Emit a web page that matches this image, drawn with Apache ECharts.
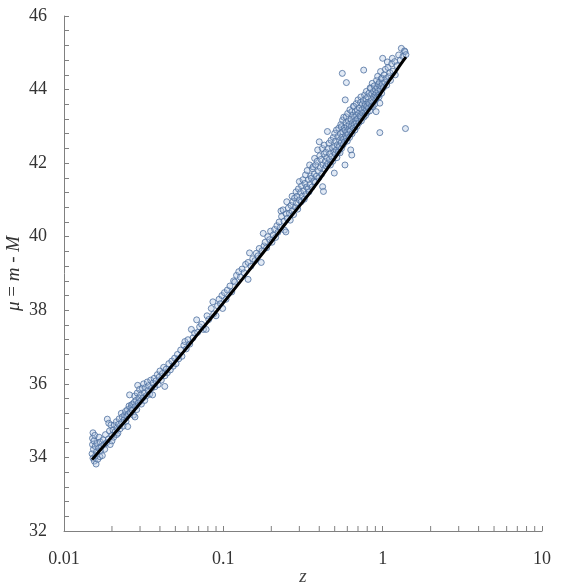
<!DOCTYPE html>
<html>
<head>
<meta charset="utf-8">
<script src="https://cdn.jsdelivr.net/npm/echarts@6/dist/echarts.min.js"></script>
<style>html,body{margin:0;padding:0;background:#fff}#c{width:577px;height:585px}</style>
</head>
<body>
<div id="c"></div>
<script>
// Axis ranges and tick labels
const xMin = 0.01, xMax = 10;
const yMin = 32, yMax = 46, yStep = 2;
const xMinorTickVals = [0.02,0.03,0.04,0.05,0.06,0.07,0.08,0.09,0.2,0.3,0.4,0.5,0.6,0.7,0.8,0.9,2,3,4,5,6,7,8,9];

// Model curve (z, mu)
const modelZ  = [0.015,0.02,0.025,0.03,0.04,0.05,0.06,0.07,0.08,0.1,0.12,0.15,0.2,0.25,0.3,0.35,0.4,0.5,0.6,0.7,0.8,0.9,1.0,1.1,1.2,1.3,1.4];
const modelMu = [33.94,34.57,35.06,35.47,36.11,36.60,37.02,37.38,37.68,38.20,38.63,39.16,39.85,40.40,40.83,41.20,41.54,42.13,42.62,43.03,43.38,43.68,43.97,44.24,44.47,44.69,44.88];

// Supernova points [z, mu]
const snPoints = [
[0.0150,34.10],[0.0151,34.35],[0.0151,34.52],[0.0152,34.67],[0.0152,33.98],[0.0153,34.22],[0.0154,34.45],[0.0155,33.90],[0.0156,34.60],[0.0157,34.30],[0.0158,34.05],[0.0159,33.82],[0.0160,34.15],[0.0161,34.38],[0.0163,33.95],[0.0165,34.25],[0.0166,34.55],[0.0168,34.02],[0.0169,34.42],[0.0170,34.18],[0.0172,34.30],[0.0174,34.05],[0.0176,34.48],[0.0178,34.35],[0.0180,34.22],[0.0182,34.62],[0.0185,34.40],[0.0187,35.04],[0.0190,34.50],[0.0191,34.93],[0.0193,34.72],[0.0195,34.35],[0.0197,34.88],[0.0200,34.60],[0.0200,34.45],
[0.0203,34.75],[0.0205,34.55],[0.0207,34.88],[0.0210,34.70],[0.0213,34.97],[0.0214,34.62],[0.0215,34.80],[0.0218,34.66],[0.0220,34.90],[0.0222,35.05],[0.0225,34.78],[0.0229,35.20],[0.0230,34.95],[0.0232,35.10],[0.0235,34.85],[0.0238,35.02],[0.0240,35.15],[0.0243,35.25],[0.0245,34.98],[0.0248,35.12],[0.0250,35.30],[0.0251,34.84],[0.0253,35.18],[0.0256,35.40],[0.0258,35.70],[0.0260,35.22],[0.0263,35.35],[0.0265,35.43],[0.0268,35.28],[0.0270,35.45],[0.0273,35.15],[0.0276,35.50],[0.0278,35.67],[0.0279,35.10],[0.0280,35.38],[0.0283,35.55],[0.0286,35.30],[0.0288,35.75],[0.0290,35.96],[0.0292,35.48],[0.0295,35.62],[0.0298,35.85],[0.0300,35.52],
[0.0303,35.70],[0.0306,35.45],[0.0310,35.88],[0.0313,35.62],[0.0316,36.00],[0.0320,35.75],[0.0321,35.55],[0.0325,35.90],[0.0330,35.68],[0.0333,36.05],[0.0337,35.82],[0.0340,35.95],[0.0345,35.72],[0.0350,36.10],[0.0355,35.88],[0.0360,35.70],[0.0362,36.02],[0.0368,36.15],[0.0372,35.92],[0.0378,36.08],[0.0385,36.25],[0.0390,35.98],[0.0395,36.18],[0.0400,36.35],[0.0408,36.10],[0.0415,36.28],[0.0422,36.45],[0.0429,35.93],[0.0430,36.22],[0.0438,36.40],[0.0445,36.30],[0.0455,36.55],[0.0465,36.38],[0.0475,36.62],[0.0485,36.48],[0.0495,36.70],
[0.0505,36.55],[0.0515,36.80],[0.0525,36.68],[0.0540,36.92],[0.0550,36.75],[0.0565,37.05],[0.0574,37.15],[0.0585,36.95],[0.0600,37.20],[0.0615,37.08],[0.0630,37.48],[0.0645,37.25],[0.0660,37.38],[0.0680,37.74],[0.0690,37.40],[0.0710,37.55],[0.0730,37.62],[0.0750,37.48],[0.0780,37.48],[0.0790,37.85],[0.0810,37.75],[0.0840,38.05],[0.0860,38.23],[0.0870,37.90],[0.0900,37.85],[0.0920,38.12],[0.0940,38.30],[0.0960,38.18],[0.0980,38.40],[0.0990,38.05],
[0.1016,38.48],[0.1040,38.30],[0.1060,38.55],[0.1100,38.66],[0.1130,38.50],[0.1160,38.80],[0.1180,38.77],[0.1210,38.95],[0.1250,39.05],[0.1280,38.90],[0.1310,39.12],[0.1350,39.02],[0.1380,39.25],[0.1430,38.84],[0.1430,39.30],[0.1460,39.56],[0.1490,39.20],[0.1530,39.40],[0.1580,39.35],[0.1610,39.55],[0.1650,39.48],[0.1680,39.68],[0.1730,39.30],[0.1750,39.62],[0.1780,40.09],[0.1800,39.75],[0.1830,39.85],[0.1870,39.70],[0.1900,40.00],[0.1950,39.92],[0.1980,40.15],
[0.2020,39.85],[0.2060,40.05],[0.2100,40.20],[0.2130,39.98],[0.2170,40.30],[0.2200,40.12],[0.2240,40.40],[0.2280,40.25],[0.2300,40.70],[0.2320,40.55],[0.2370,40.73],[0.2400,40.42],[0.2420,40.18],[0.2470,40.13],[0.2480,40.62],[0.2500,40.95],[0.2520,40.50],[0.2560,40.78],[0.2600,40.64],[0.2630,40.45],[0.2660,40.85],[0.2700,40.70],[0.2700,41.10],[0.2730,40.95],[0.2760,40.60],[0.2800,41.05],[0.2830,40.80],[0.2860,41.22],[0.2880,40.92],[0.2900,41.10],[0.2930,40.75],[0.2960,41.30],[0.3000,41.50],[0.3000,41.00],
[0.305,41.20],[0.308,40.95],[0.310,41.38],[0.313,41.10],[0.316,41.55],[0.320,41.25],[0.322,41.02],[0.325,41.45],[0.328,41.68],[0.330,41.15],[0.333,41.35],[0.336,41.80],[0.340,41.30],[0.342,41.55],[0.345,41.22],[0.348,41.95],[0.350,41.42],[0.353,41.65],[0.357,41.59],[0.360,41.35],[0.362,41.85],[0.366,41.90],[0.370,41.50],[0.372,41.70],[0.374,42.13],[0.378,41.48],[0.380,41.95],[0.385,41.65],[0.388,42.05],[0.391,42.36],[0.395,41.78],[0.398,41.60],[0.400,42.58],[0.403,42.20],[0.406,41.88],[0.410,42.10],[0.414,41.70],[0.418,42.40],[0.420,41.36],[0.422,41.95],[0.425,41.23],[0.428,42.25],[0.430,42.49],[0.433,41.85],[0.436,42.05],[0.440,42.30],[0.443,41.92],[0.447,42.15],[0.450,42.86],[0.452,41.98],[0.455,42.40],[0.460,42.54],[0.463,42.10],[0.466,42.25],[0.470,41.95],[0.474,42.62],[0.478,42.18],[0.482,42.42],[0.486,42.05],[0.490,42.70],[0.494,42.30],[0.497,41.73],[0.500,42.81],[0.500,42.45],
[0.503,42.25],[0.506,42.60],[0.510,42.35],[0.513,42.90],[0.516,42.15],[0.520,42.50],[0.523,42.72],[0.526,42.30],[0.530,42.95],[0.533,42.45],[0.536,42.62],[0.540,42.28],[0.543,42.80],[0.546,43.05],[0.549,42.55],[0.550,42.99],[0.552,42.40],[0.555,42.70],[0.558,44.44],[0.560,43.17],[0.562,42.85],[0.565,42.50],[0.568,42.65],[0.570,43.25],[0.573,42.95],[0.576,42.58],[0.580,42.90],[0.580,41.95],[0.582,43.72],[0.585,42.75],[0.588,43.10],[0.590,43.26],[0.590,42.68],[0.592,44.19],[0.595,42.85],[0.598,43.00],[0.600,42.60],[0.603,43.35],[0.606,42.78],[0.610,43.15],[0.613,42.92],[0.616,43.05],[0.620,42.70],[0.623,43.45],[0.626,42.88],[0.630,42.36],[0.633,43.20],[0.636,43.00],[0.640,43.40],[0.640,42.22],[0.643,42.80],[0.646,43.10],[0.650,43.30],[0.653,42.95],[0.656,43.55],[0.660,43.54],[0.663,43.05],[0.666,43.25],[0.670,42.90],[0.673,43.40],[0.676,43.15],[0.680,43.08],[0.683,43.62],[0.686,43.30],[0.690,43.00],[0.693,43.45],[0.696,43.20],[0.700,43.72],[0.705,43.35],[0.710,43.10],[0.715,43.50],[0.720,43.28],[0.725,43.65],[0.730,43.80],[0.730,43.26],[0.735,43.15],[0.740,43.45],[0.745,43.60],
[0.750,43.35],[0.755,43.70],[0.760,44.53],[0.762,43.25],[0.766,43.50],[0.770,43.85],[0.774,43.40],[0.778,43.60],[0.782,43.30],[0.786,43.75],[0.790,43.45],[0.790,43.95],[0.795,43.55],[0.800,43.38],[0.805,43.80],[0.810,43.65],[0.815,43.50],[0.820,43.90],[0.825,43.62],[0.830,43.42],[0.835,44.05],[0.840,44.03],[0.845,43.70],[0.850,43.55],[0.855,43.88],[0.860,44.17],[0.865,43.65],[0.870,43.54],[0.875,43.95],[0.880,43.78],[0.885,44.10],[0.890,43.60],[0.895,43.85],[0.900,44.00],[0.905,43.72],[0.910,43.90],[0.910,43.40],[0.915,44.25],[0.920,43.80],[0.925,44.05],[0.930,44.36],[0.935,43.95],[0.940,44.15],[0.945,43.85],[0.950,43.80],[0.955,44.20],[0.960,43.63],[0.960,42.83],[0.965,44.00],[0.970,44.49],[0.975,44.10],[0.980,44.30],[0.985,43.90],[0.990,44.31],[0.995,44.15],[1.000,44.85],
[1.010,44.05],[1.020,44.40],[1.030,44.20],[1.040,44.55],[1.050,44.30],[1.060,44.12],[1.070,44.75],[1.080,44.60],[1.090,44.35],[1.110,44.46],[1.120,44.25],[1.140,44.70],[1.150,44.85],[1.160,44.50],[1.190,44.76],[1.200,44.40],[1.230,44.65],[1.260,44.94],[1.290,44.80],[1.310,45.12],[1.340,44.90],[1.370,45.05],[1.380,45.03],[1.390,42.94],[1.400,44.95]
];

const chart = echarts.init(document.getElementById('c'), null, {renderer: 'canvas'});
const axisColor = '#808080';
const font = 'Liberation Serif, Times New Roman, serif';

chart.setOption({
  animation: false,
  backgroundColor: '#fff',
  grid: {left: 64, right: 35, top: 16, bottom: 54, containLabel: false, outerBoundsMode: 'none'},
  xAxis: {
    type: 'log', logBase: 10, min: xMin, max: xMax,
    name: 'z', nameLocation: 'middle', nameGap: 36, nameMoveOverlap: false,
    nameTextStyle: {fontFamily: font, fontStyle: 'italic', fontSize: 19, color: '#444'},
    axisLine: {show: true, lineStyle: {color: axisColor, width: 1}},
    axisTick: {show: true, inside: true, length: 5, lineStyle: {color: axisColor}},
    axisLabel: {fontFamily: font, fontSize: 18, color: '#333', margin: 19,
      formatter: v => String(+(+v).toPrecision(3))},
    splitLine: {show: false}
  },
  yAxis: {
    type: 'value', min: yMin, max: yMax, interval: yStep,
    name: '{i|μ} = {i|m} - {i|M}', nameLocation: 'middle', nameGap: 41, nameRotate: 90, nameMoveOverlap: false,
    nameTextStyle: {fontFamily: font, fontSize: 19, color: '#333',
      rich: {i: {fontFamily: font, fontStyle: 'italic', fontSize: 19, color: '#333'}}},
    axisLine: {show: true, lineStyle: {color: axisColor, width: 1}},
    axisTick: {show: true, inside: true, length: 5, lineStyle: {color: axisColor}},
    minorTick: {show: true, splitNumber: 5, length: 5, lineStyle: {color: axisColor}},
    axisLabel: {fontFamily: font, fontSize: 18, color: '#333', margin: 17},
    splitLine: {show: false}
  },
  series: [
    {
      type: 'custom', silent: true, z: 1,
      data: xMinorTickVals.map(v => [v, yMin]),
      encode: {x: 0, y: 1},
      renderItem: (params, api) => {
        const p = api.coord([api.value(0), api.value(1)]);
        return {type: 'line', shape: {x1: p[0], y1: p[1], x2: p[0], y2: p[1] - 5},
          style: {stroke: axisColor, lineWidth: 1}};
      }
    },
    {
      type: 'scatter', data: snPoints, symbol: 'circle', symbolSize: 6, z: 2,
      itemStyle: {color: 'rgba(175,198,228,0.45)', borderColor: '#4d6f9f', borderWidth: 1}
    },
    {
      type: 'line', data: modelZ.map((z, i) => [z, modelMu[i]]), smooth: true,
      showSymbol: false, z: 3,
      lineStyle: {color: '#000', width: 3}
    }
  ]
});
</script>
</body>
</html>
